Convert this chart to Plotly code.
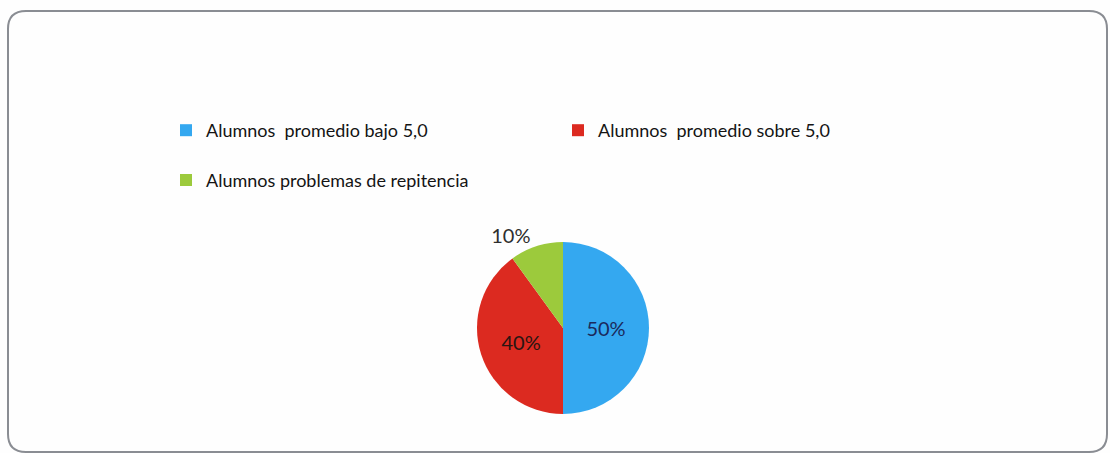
import plotly.graph_objects as go

labels = ["Alumnos  promedio bajo 5,0", "Alumnos  promedio sobre 5,0", "Alumnos problemas de repitencia"]
values = [50, 40, 10]
colors = ["#34A8F0", "#DC2A20", "#9CCA3C"]
text_colors = ["#1B2A5C", "#2A1512", "#2E2E2E"]
text_positions = ["inside", "inside", "outside"]

# legend rows in the reference are spaced wider than one text line: pad the first row
legend_labels = [labels[0] + "<br> ", labels[1] + "<br> ", labels[2]]

W, H = 1110, 453
fig = go.Figure(go.Pie(
    labels=legend_labels, values=values, sort=False, direction="clockwise", rotation=0,
    marker=dict(colors=colors, line=dict(width=0)),
    texttemplate="%{percent:.0%}", textposition=text_positions,
    textfont=dict(family="Lato, sans-serif", size=20, color=text_colors),
    insidetextorientation="horizontal",
    domain=dict(x=[477 / W, 649 / W], y=[39 / H, 211 / H]),
    showlegend=True, hoverinfo="skip",
))
fig.update_layout(
    width=W, height=H,
    margin=dict(l=0, r=0, t=0, b=0),
    paper_bgcolor="#FEFEFE",
    legend=dict(orientation="h", x=166 / W, y=1 - 112 / H, xanchor="left", yanchor="top",
                entrywidth=347, entrywidthmode="pixels", valign="top",
                font=dict(family="Lato, sans-serif", size=18, color="#141414"),
                itemwidth=30, traceorder="normal"),
    shapes=[dict(type="path", xref="paper", yref="paper", layer="below",
                 path=("M {x0},{y0a} Q {x0},{y0} {x0r},{y0} L {x1r},{y0} Q {x1},{y0} {x1},{y0a} "
                       "L {x1},{y1a} Q {x1},{y1} {x1r},{y1} L {x0r},{y1} Q {x0},{y1} {x0},{y1a} Z").format(
                     x0=8 / W, x1=1107 / W, x0r=26 / W, x1r=1089 / W,
                     y0=1 - 11 / H, y0a=1 - 29 / H, y1=1 - 452 / H, y1a=1 - 434 / H),
                 line=dict(color="#8A8D93", width=2), fillcolor="rgba(0,0,0,0)")],
)
fig.write_html("out.html", config={"displayModeBar": False},
               post_script="document.body.style.margin='0';document.body.style.overflow='hidden';")
